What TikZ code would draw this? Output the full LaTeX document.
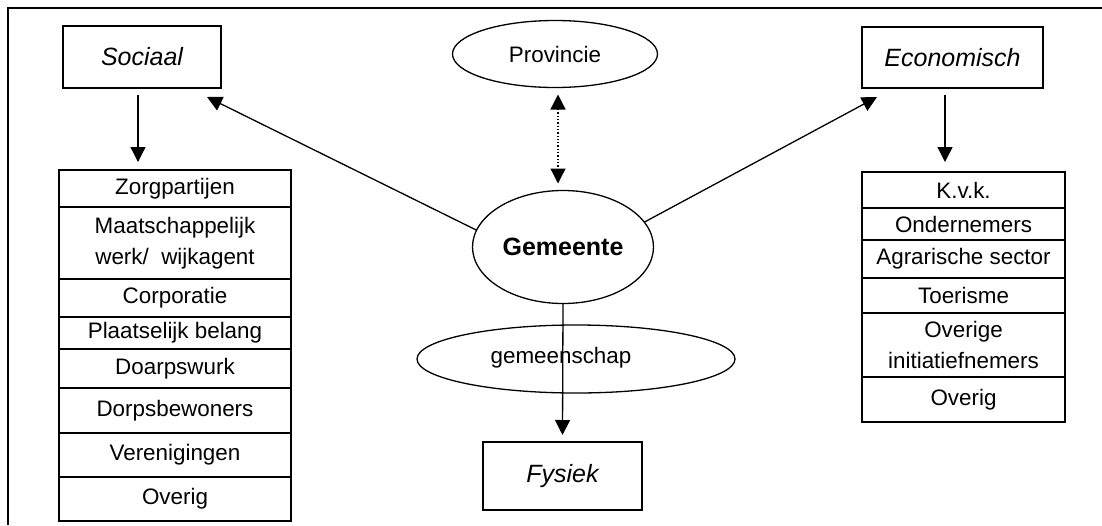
\documentclass[tikz,border=0pt]{standalone}
\usepackage{fontspec}
\setmainfont{Liberation Sans}
\usetikzlibrary{shapes.geometric,arrows.meta}
\begin{document}
\begin{tikzpicture}[x=1pt,y=-1pt,
  every node/.style={font=\fontsize{22.4}{31}\selectfont, inner sep=0pt, outer sep=0pt, align=center},
  big/.style={font=\fontsize{25}{31}\selectfont},
  box/.style={draw, line width=1.5pt, rectangle, big},
  oval/.style={draw, line width=1.3pt, ellipse},
  lrow/.style={draw, line width=1.8pt, rectangle, minimum width=232pt, anchor=north},
  rrow/.style={draw, line width=1.8pt, rectangle, minimum width=203pt, anchor=north},
  arr/.style={line width=1.3pt, -{Triangle[width=15pt,length=15pt]}},
  darr/.style={line width=1.3pt, dotted, {Triangle[width=15pt,length=15pt]}-{Triangle[width=15pt,length=15pt]}}]
\useasboundingbox (0,0) rectangle (1102,525);
% frame
\draw[line width=2pt] (8,525) -- (8,8) -- (1102,8);

% category boxes
\node[box, minimum width=158pt, minimum height=62pt] (soc) at (142,57) {\itshape Sociaal};
\node[box, minimum width=181pt, minimum height=61pt] (eco) at (952.5,57.5) {\itshape Economisch};
\node[box, minimum width=159pt, minimum height=68pt] (fys) at (562.5,476) {\itshape Fysiek};

% ellipses
\node[oval, minimum width=205pt, minimum height=67pt] (prov) at (555,54) {Provincie};
\node[oval, big, minimum width=181pt, minimum height=113pt] (gem) at (563,247) {\bfseries Gemeente};
\node[oval, minimum width=318pt, minimum height=68pt] (gms) at (576,359) {};
\node (gmstxt) at (561,358) {gemeenschap};

% social table
\node[lrow, minimum height=37pt] (l1) at (175,170) {Zorgpartijen};
\node[lrow, minimum height=72pt] (l2) at (l1.south) {Maatschappelijk\\werk/\ \ wijkagent};
\node[lrow, minimum height=38pt] (l3) at (l2.south) {Corporatie};
\node[lrow, minimum height=32pt] (l4) at (l3.south) {Plaatselijk belang};
\node[lrow, minimum height=39pt] (l5) at (l4.south) {Doarpswurk};
\node[lrow, minimum height=45pt] (l6) at (l5.south) {Dorpsbewoners};
\node[lrow, minimum height=44pt] (l7) at (l6.south) {Verenigingen};
\node[lrow, minimum height=44pt] (l8) at (l7.south) {Overig};

% economic table
\node[rrow, minimum height=36pt] (r1) at (963.5,172) {K.v.k.};
\node[rrow, minimum height=32pt] (r2) at (r1.south) {Ondernemers};
\node[rrow, minimum height=38pt] (r3) at (r2.south) {Agrarische sector};
\node[rrow, minimum height=35pt] (r4) at (r3.south) {Toerisme};
\node[rrow, minimum height=64pt] (r5) at (r4.south) {Overige\\initiatiefnemers};
\node[rrow, minimum height=45pt] (r6) at (r5.south) {Overig};

% connectors
\draw[arr] ([xshift=-4pt,yshift=-7pt]soc.south) -- ([xshift=-4pt,yshift=8pt]soc.south |- l1.north);
\draw[arr] ([xshift=-7.5pt,yshift=-7pt]eco.south) -- ([xshift=-7.5pt,yshift=10pt]eco.south |- r1.north);
\draw[arr] (gem.169) -- ([xshift=-14pt,yshift=-9pt]soc.south east);
\draw[arr] (gem.17) -- ([xshift=15pt,yshift=-9pt]eco.south west);
\draw[darr] ([xshift=3pt,yshift=-7pt]prov.south) -- ([xshift=3pt,yshift=7pt]prov.south |- gem.north);
\draw[arr] (gem.south) -- ([yshift=7pt]fys.north);
\end{tikzpicture}
\end{document}
